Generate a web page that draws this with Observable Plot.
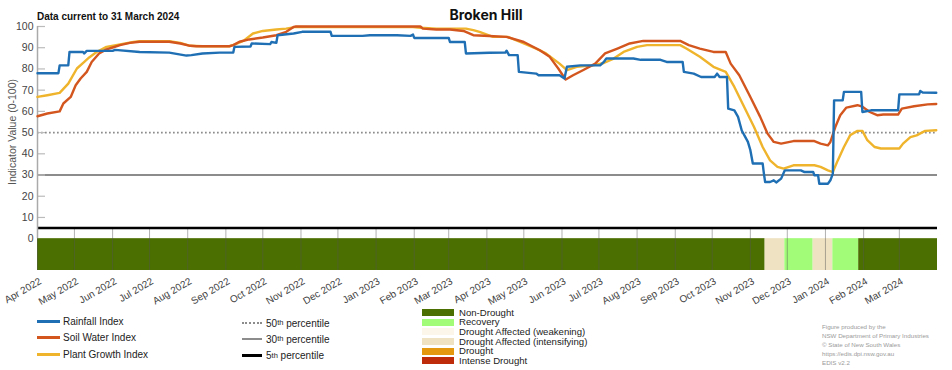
<!DOCTYPE html>
<html>
<head>
<meta charset="utf-8">
<script src="https://cdn.jsdelivr.net/npm/d3@7"></script>
<script src="https://cdn.jsdelivr.net/npm/@observablehq/plot@0.6"></script>
<style>
  body { margin: 0; background: #fff; }
  #wrap { position: relative; width: 952px; height: 370px; overflow: hidden; font-family: "Liberation Sans", Arial, sans-serif; color: #222; }
  #chart { position: absolute; left: 0; top: 0; }
  .title { position: absolute; left: 386px; width: 200px; top: 6px; text-align: center; font: bold 14px Inter, "Liberation Sans", sans-serif; color: #111; }
  .sub { position: absolute; left: 37px; top: 11px; font: bold 10px "Liberation Sans", Arial, sans-serif; color: #111; white-space: nowrap; }
  .ylab { position: absolute; left: 12px; top: 132px; transform: translate(-50%, -50%) rotate(-90deg); font-size: 10.5px; color: #555; white-space: nowrap; }
  .row { position: absolute; display: flex; align-items: center; white-space: nowrap; font-size: 10px; color: #222; }
  .lsw { display: inline-block; width: 23px; height: 3px; margin-right: 3px; }
  .psw { display: inline-block; width: 20px; height: 0; margin-right: 4px; }
  .dsw { display: inline-block; width: 32px; height: 7px; margin-right: 5px; }
  .drow { font-size: 9.6px; }
  .foot { position: absolute; left: 822px; top: 322px; font-size: 6.2px; line-height: 9.1px; color: #9a9a9a; white-space: nowrap; }
  sup { font-size: 7.5px; line-height: 0; }
</style>
</head>
<body>
<div id="wrap">
  <div id="chart"></div>
</div>
<script>
// ---------- data ----------
const title = "Broken Hill";
const subtitle = "Data current to 31 March 2024";
const yLabel = "Indicator Value (0-100)";
const xStart = "2022-04-01";
const xEnd = "2024-04-01";
const yTicks = [0, 10, 20, 30, 40, 50, 60, 70, 80, 90, 100];
const stripDepth = -15;

const seriesNames = ["Rainfall Index", "Soil Water Index", "Plant Growth Index"];
const seriesColors = ["#1f6fb4", "#d4561f", "#efb42c"];

const rainfall = [
["2022-04-01",78],["2022-04-18",78],["2022-04-19",81.7],["2022-04-26",81.7],["2022-04-27",88],
["2022-05-08",88],["2022-05-09",87.3],["2022-05-11",88.5],["2022-06-01",88.5],["2022-06-03",89],
["2022-06-23",88],["2022-07-17",87.7],["2022-07-31",86.3],["2022-08-04",86.5],["2022-08-13",87.3],
["2022-08-27",87.7],["2022-09-07",87.7],["2022-09-08",90.4],["2022-09-21",90.6],["2022-09-22",92],
["2022-10-07",91.7],["2022-10-08",92.7],["2022-10-12",92.3],["2022-10-13",95.9],["2022-10-26",96.7],
["2022-11-02",97.5],["2022-11-25",97.5],["2022-11-26",95.6],["2022-12-21",95.6],["2022-12-27",95.9],
["2023-01-18",95.9],["2023-01-29",95.6],["2023-01-31",96.2],["2023-02-01",94.6],["2023-03-01",94.6],
["2023-03-02",92.7],["2023-03-14",92.7],["2023-03-15",87.3],["2023-04-03",87.6],["2023-04-16",87.7],
["2023-04-17",88.6],["2023-04-19",86.5],["2023-04-26",86.5],["2023-04-27",78.6],["2023-05-11",77.8],
["2023-05-13",77],["2023-05-30",77],["2023-06-03",75.5],["2023-06-05",81],["2023-06-16",81.7],
["2023-07-02",81.7],["2023-07-05",83.3],["2023-07-07",84.9],["2023-07-29",84.9],["2023-08-04",84.3],
["2023-08-20",84.3],["2023-08-25",83.3],["2023-09-07",83.3],["2023-09-08",78.6],["2023-09-16",77.8],
["2023-09-22",76.2],["2023-10-03",76.2],["2023-10-05",77.8],["2023-10-07",76.2],["2023-10-13",76.2],
["2023-10-14",61.3],["2023-10-19",60.5],["2023-10-22",57.4],["2023-10-25",51],["2023-10-30",45.6],
["2023-11-01",41.7],["2023-11-03",35.4],["2023-11-11",35.4],["2023-11-12",30.7],["2023-11-13",26.7],
["2023-11-17",26.7],["2023-11-20",27.5],["2023-11-22",26.5],["2023-11-26",28.3],["2023-11-29",32.2],
["2023-12-12",32.2],["2023-12-15",31.4],["2023-12-22",31.4],["2023-12-23",29.9],["2023-12-26",29.9],
["2023-12-27",25.9],["2024-01-03",25.9],["2024-01-05",27.5],["2024-01-07",30.7],["2024-01-08",65.2],
["2024-01-15",65.2],["2024-01-16",69.2],["2024-01-30",69.2],["2024-01-31",59.7],["2024-02-07",60.5],
["2024-02-29",60.5],["2024-03-01",68],["2024-03-17",68],["2024-03-18",69.6],["2024-03-20",68.9],
["2024-03-31",68.8]
];

const soilWater = [
["2022-04-01",57.7],["2022-04-09",59],["2022-04-19",60],["2022-04-22",63.7],["2022-04-28",66.8],
["2022-05-02",72.3],["2022-05-06",75.5],["2022-05-11",78.6],["2022-05-15",83.3],["2022-05-21",87.3],
["2022-05-27",89.2],["2022-06-01",90.1],["2022-06-07",91.2],["2022-06-15",92.3],["2022-06-23",92.8],
["2022-07-17",92.8],["2022-07-26",92],["2022-08-03",90.9],["2022-08-08",90.7],["2022-09-04",90.7],
["2022-09-07",91.2],["2022-09-12",92.8],["2022-09-20",93.9],["2022-10-01",94.8],["2022-10-12",95.9],
["2022-10-20",97.5],["2022-10-26",99.8],["2022-10-28",100],["2023-02-06",100],["2023-02-08",99],
["2023-02-19",98.6],["2023-03-02",98.6],["2023-03-13",97.9],["2023-03-21",95.9],["2023-04-03",95.5],
["2023-04-17",95.1],["2023-05-01",92.7],["2023-05-14",88.8],["2023-05-22",85.7],["2023-05-29",80.2],
["2023-06-04",75],["2023-06-10",77],["2023-06-18",79.4],["2023-06-28",82.5],["2023-07-06",87.3],
["2023-07-16",89.6],["2023-07-26",92],["2023-08-06",93.2],["2023-09-05",93.2],["2023-09-12",91.2],
["2023-09-21",89.6],["2023-10-02",88],["2023-10-12",88],["2023-10-16",82.5],["2023-10-23",77],
["2023-11-01",66.8],["2023-11-09",57.4],["2023-11-15",49.5],["2023-11-20",45.6],["2023-11-26",44.8],
["2023-12-06",46],["2023-12-23",46],["2023-12-28",44.8],["2024-01-03",44],["2024-01-05",45.6],
["2024-01-09",52.6],["2024-01-13",58.2],["2024-01-18",61.8],["2024-01-27",62.9],["2024-01-31",62.2],
["2024-02-06",59.7],["2024-02-12",58.2],["2024-02-17",58.5],["2024-02-29",58.5],["2024-03-03",61.3],
["2024-03-13",62.4],["2024-03-24",63.3],["2024-03-31",63.5]
];

const plantGrowth = [
["2022-04-01",66.8],["2022-04-09",67.6],["2022-04-19",68.7],["2022-04-26",73.1],["2022-05-03",80.2],
["2022-05-09",83.3],["2022-05-13",85.4],["2022-05-19",88],["2022-05-27",90.4],["2022-06-07",91.6],
["2022-06-18",92.7],["2022-06-23",93.1],["2022-07-17",93.1],["2022-07-26",92.3],["2022-08-03",90.9],
["2022-08-13",90.7],["2022-09-04",90.7],["2022-09-08",91.5],["2022-09-16",93.5],["2022-09-23",96.7],
["2022-10-01",97.9],["2022-10-12",98.6],["2022-10-20",99],["2022-10-28",99.8],["2022-11-11",99.7],
["2023-01-31",99.7],["2023-02-06",99.4],["2023-02-19",99],["2023-03-15",99],["2023-03-21",98.3],
["2023-03-26",97.5],["2023-04-06",95.1],["2023-04-18",95.1],["2023-04-28",92.7],["2023-05-11",89.6],
["2023-05-19",87.3],["2023-05-30",82.5],["2023-06-05",79.4],["2023-06-13",81],["2023-06-26",81.7],
["2023-07-05",82.8],["2023-07-13",84.9],["2023-07-21",88],["2023-08-01",90.4],["2023-08-09",91.2],
["2023-09-05",91.2],["2023-09-10",89.6],["2023-09-21",85.7],["2023-10-02",81],["2023-10-12",78.6],
["2023-10-19",71.5],["2023-10-27",62.1],["2023-11-04",52.6],["2023-11-11",43.2],["2023-11-17",36.9],
["2023-11-23",33.8],["2023-11-28",33],["2023-12-06",34.6],["2023-12-23",34.6],["2023-12-28",33.8],
["2024-01-03",32.2],["2024-01-07",31.4],["2024-01-11",36.9],["2024-01-16",43.2],["2024-01-21",48.7],
["2024-01-27",50.8],["2024-01-31",50.8],["2024-02-04",46.4],["2024-02-10",43.2],["2024-02-15",42.5],
["2024-03-01",42.5],["2024-03-04",44.8],["2024-03-10",47.9],["2024-03-15",48.7],["2024-03-22",50.8],
["2024-03-31",51.1]
];

const percentileValues = [50, 30, 5];
const percentileNames = ["50", "30", "5"];
const percentileColors = ["#8c8c8c", "#8c8c8c", "#000000"];

const droughtCategories = ["Non-Drought", "Recovery", "Drought Affected (weakening)", "Drought Affected (intensifying)", "Drought", "Intense Drought"];
const droughtColors = ["#4b6f00", "#a2fc78", "#fcf5ea", "#eee2c2", "#e3980f", "#be2b0b"];
const droughtPeriods = [
  ["2022-04-01", "2023-11-13", "Non-Drought"],
  ["2023-11-13", "2023-11-29", "Drought Affected (intensifying)"],
  ["2023-11-29", "2023-12-22", "Recovery"],
  ["2023-12-22", "2024-01-07", "Drought Affected (intensifying)"],
  ["2024-01-07", "2024-01-28", "Recovery"],
  ["2024-01-28", "2024-04-01", "Non-Drought"]
];

const footerLines = ["Figure produced by the", "NSW Department of Primary Industries", "\u00a9 State of New South Wales", "https://edis.dpi.nsw.gov.au", "EDIS v2.2"];

// ---------- build ----------
const parse = d3.utcParse("%Y-%m-%d");
const toRows = arr => arr.map(([d, v]) => ({date: parse(d), value: v}));
const seriesRows = [toRows(rainfall), toRows(soilWater), toRows(plantGrowth)];
const strip = droughtPeriods.map(([a, b, c]) => ({start: parse(a), end: parse(b), category: c, top: 0, bottom: stripDepth}));
const months = d3.utcMonth.range(parse(xStart), parse(xEnd));

const plot = Plot.plot({
  width: 952,
  height: 305,
  marginTop: 26,
  marginLeft: 37,
  marginRight: 15,
  marginBottom: 35,
  x: {type: "utc", domain: [parse(xStart), parse(xEnd)]},
  y: {domain: [stripDepth, 100]},
  color: {domain: droughtCategories, range: droughtColors},
  style: {fontFamily: "'Liberation Sans', Arial, sans-serif", fontSize: "10.5px", color: "#444", background: "transparent", overflow: "visible"},
  marks: [
    Plot.rect(strip, {x1: "start", x2: "end", y1: "top", y2: "bottom", fill: "category"}),
    Plot.ruleX(months, {y1: stripDepth, y2: percentileValues[2], stroke: "#555", strokeOpacity: 0.45, strokeWidth: 1}),
    Plot.ruleY([percentileValues[0]], {stroke: percentileColors[0], strokeWidth: 1.7, strokeDasharray: "1.7,2.3"}),
    Plot.ruleY([percentileValues[1]], {stroke: percentileColors[1], strokeWidth: 2}),
    Plot.ruleY([percentileValues[2]], {stroke: percentileColors[2], strokeWidth: 2.6}),
    Plot.tickY(yTicks.slice(1), {y: d => d, insetRight: 892, stroke: "#bbb", strokeWidth: 1.2}),
    Plot.ruleX([parse(xStart)], {y1: 0, y2: 100, stroke: "#aaa", strokeWidth: 1.5}),
    Plot.lineY(seriesRows[2], {x: "date", y: "value", stroke: seriesColors[2], strokeWidth: 2.4}),
    Plot.lineY(seriesRows[1], {x: "date", y: "value", stroke: seriesColors[1], strokeWidth: 2.4}),
    Plot.lineY(seriesRows[0], {x: "date", y: "value", stroke: seriesColors[0], strokeWidth: 2.4}),
    Plot.axisY({ticks: yTicks, tickSize: 0, tickPadding: 4, label: null, fontSize: 10.5}),
    Plot.axisX({ticks: months, tickFormat: d3.utcFormat("%b %Y"), tickRotate: -30, tickSize: 0, tickPadding: 10, dx: 3, label: null, fontSize: 10})
  ]
});
document.getElementById("chart").appendChild(plot);

const wrap = document.getElementById("wrap");
function add(cls, html, styleObj) {
  const el = document.createElement("div");
  el.className = cls;
  el.innerHTML = html;
  if (styleObj) Object.assign(el.style, styleObj);
  wrap.appendChild(el);
  return el;
}
add("title", title);
add("sub", subtitle);
add("ylab", yLabel);

// index legend
seriesNames.forEach((n, i) => {
  add("row", `<span class="lsw" style="background:${seriesColors[i]}"></span>${n}`,
      {left: "37px", top: (315.5 + i * 16.3) + "px", height: "12px"});
});
// percentile legend
percentileNames.forEach((n, i) => {
  const border = i === 0 ? `border-top:2px dotted ${percentileColors[i]}` : `border-top:${i === 1 ? 2.5 : 3}px solid ${percentileColors[i]}`;
  add("row", `<span class="psw" style="${border}"></span>${n}<sup>th</sup>&nbsp;percentile`,
      {left: "242px", top: (317 + i * 16.3) + "px", height: "12px"});
});
// drought legend
droughtCategories.forEach((n, i) => {
  add("row drow", `<span class="dsw" style="background:${droughtColors[i]}"></span>${n}`,
      {left: "422px", top: (307.5 + i * 9.7) + "px", height: "9.7px", lineHeight: "9.7px"});
});
add("foot", footerLines.join("<br>"));
</script>
</body>
</html>
